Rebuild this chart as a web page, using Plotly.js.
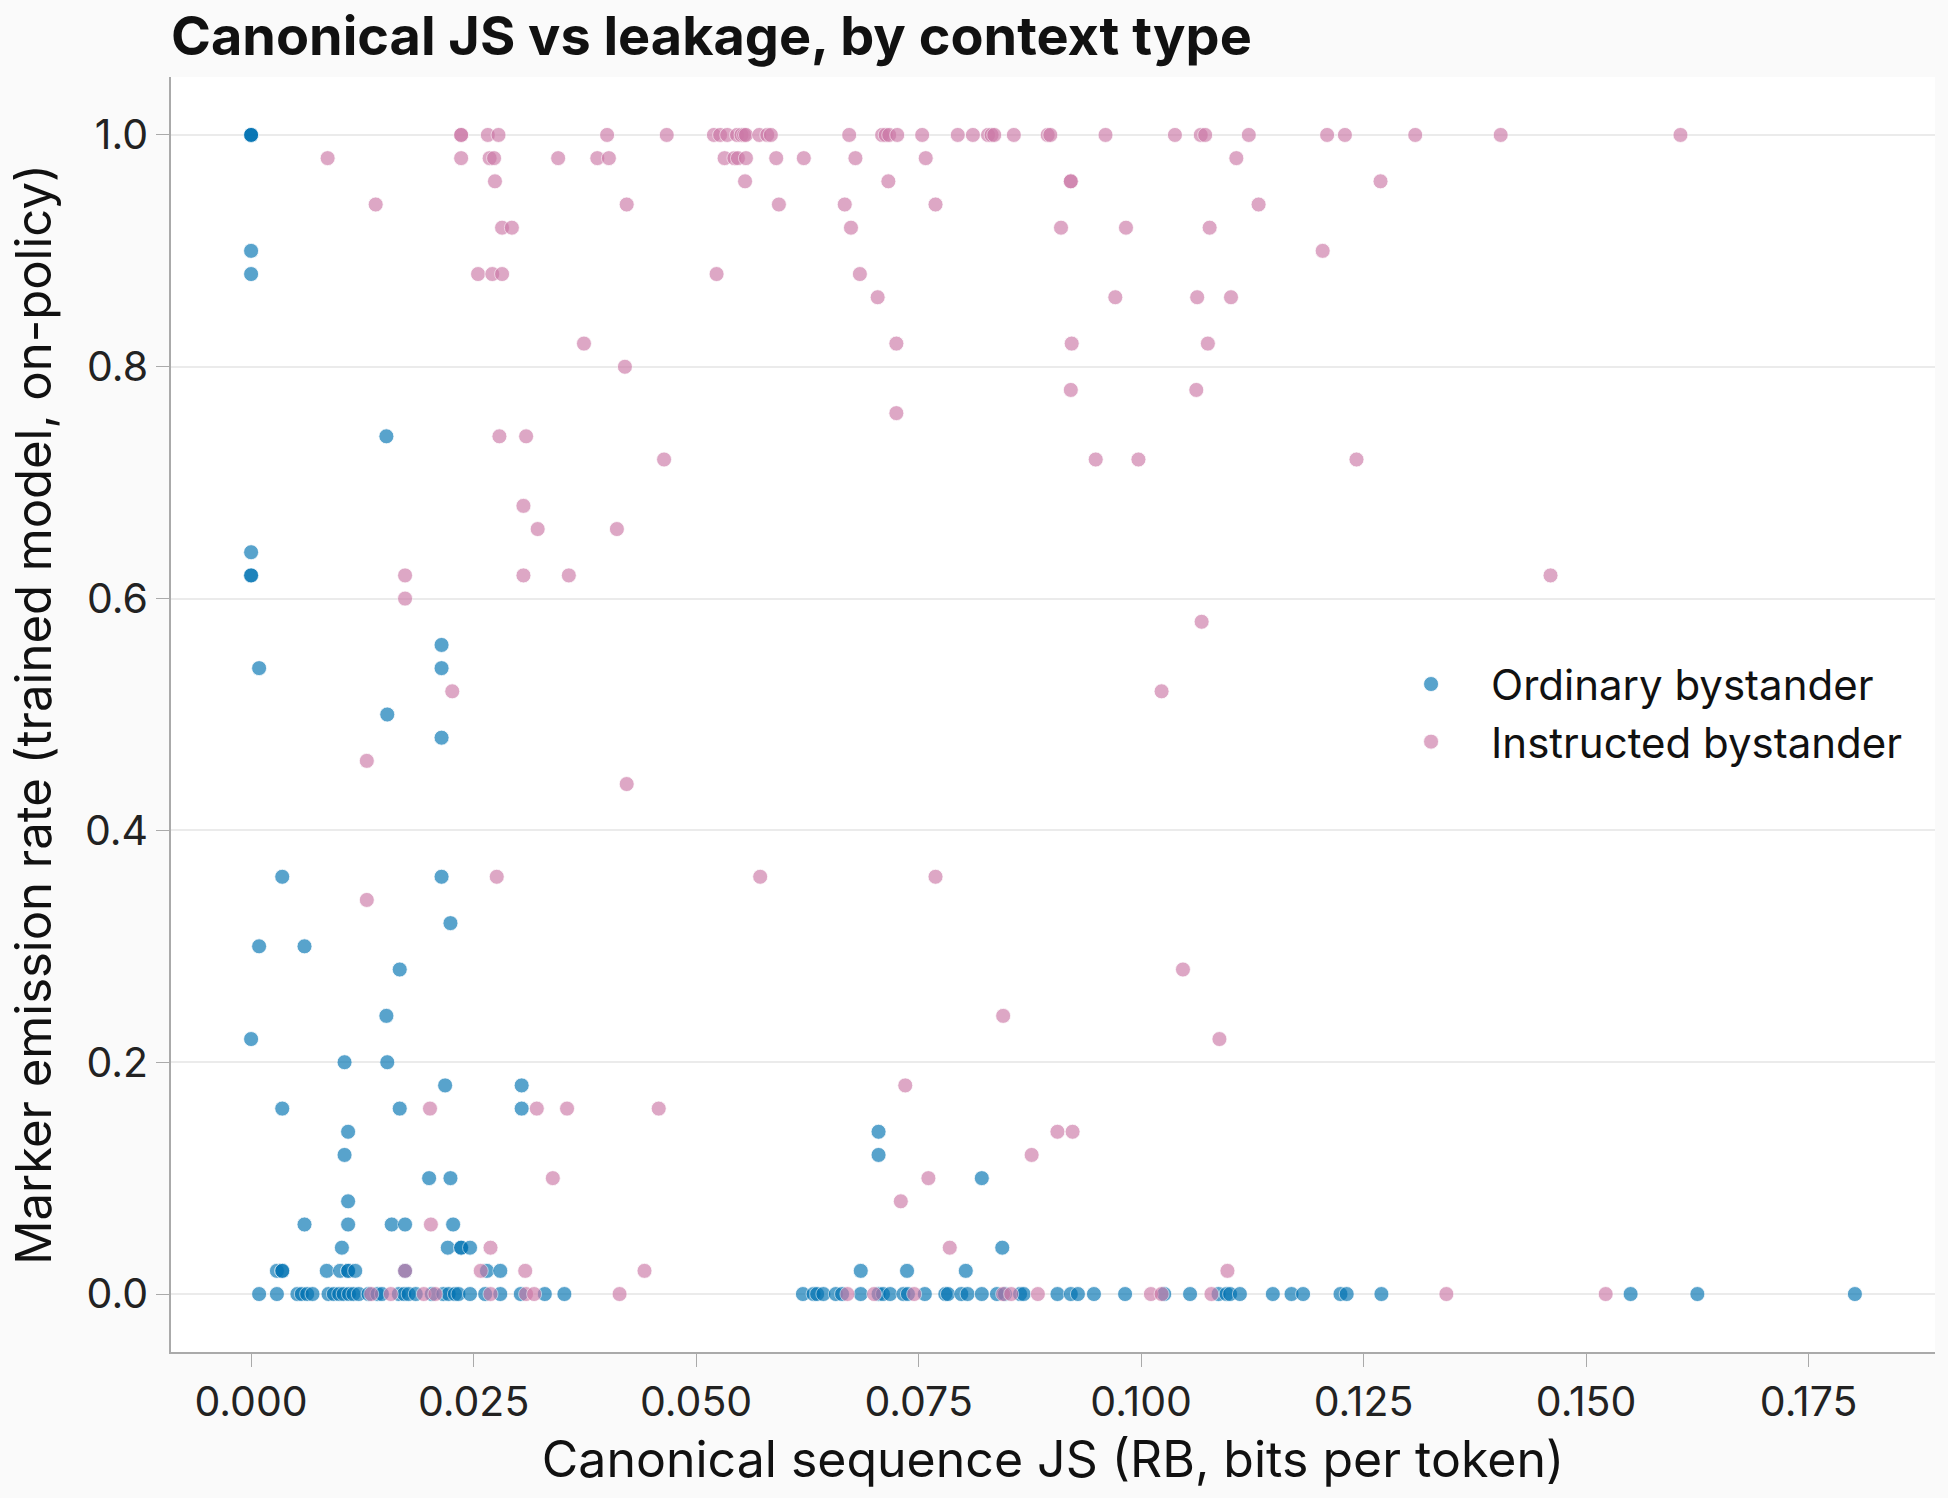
<!DOCTYPE html>
<html>
<head>
<meta charset="utf-8">
<script src="https://cdn.plot.ly/plotly-3.0.1.min.js"></script>
<style>
html,body{margin:0;padding:0;background:#FAFAFA;}
#chart{width:1948px;height:1498px;}
</style>
</head>
<body>
<div id="chart"></div>
<script>
// Ordinary bystander: canonical JS (x) and marker emission rate (y)
const ordinaryX = [
  0, 0, 0, 0, 0, 0, 0, 0, 0,
  0.0152, 0.0214, 0.0009, 0.0214, 0.0153, 0.0214,
  0.0035, 0.0214, 0.0224, 0.0009, 0.0060, 0.0167,
  0.0152, 0.0105, 0.0153, 0.0218, 0.0304,
  0.0035, 0.0167, 0.0304,
  0.0109, 0.0705, 0.0105, 0.0705,
  0.0200, 0.0224, 0.0821, 0.0109,
  0.0060, 0.0109, 0.0158, 0.0173, 0.0227,
  0.0102, 0.0221, 0.0236, 0.0236, 0.0246, 0.0844,
  0.0029, 0.0035, 0.0035, 0.0085, 0.0100, 0.0109, 0.0109, 0.0117, 0.0173, 0.0265, 0.0280, 0.0685, 0.0737, 0.0803,
  0.0009, 0.0029, 0.0052, 0.0057, 0.0063, 0.0069, 0.0087, 0.0093, 0.0099, 0.0104, 0.0110, 0.0115, 0.0121, 0.0132,
  0.0142, 0.0147, 0.0166, 0.0172, 0.0177, 0.0185, 0.0203, 0.0216, 0.0222, 0.0229, 0.0233, 0.0246, 0.0263, 0.0280,
  0.0303, 0.0330, 0.0352, 0.0620, 0.0632, 0.0636, 0.0643, 0.0657, 0.0664, 0.0685, 0.0705, 0.0710, 0.0718,
  0.0733, 0.0738, 0.0757, 0.0780, 0.0783, 0.0798, 0.0805, 0.0821, 0.0838, 0.0847, 0.0864, 0.0868, 0.0906,
  0.0921, 0.0929, 0.0947, 0.0982, 0.1026, 0.1055, 0.1087, 0.1096, 0.1100, 0.1111, 0.1148, 0.1169, 0.1182,
  0.1224, 0.1231, 0.1270, 0.1550, 0.1625, 0.1802
];
const ordinaryY = [
  1.00, 1.00, 1.00, 0.90, 0.88, 0.64, 0.62, 0.62, 0.22,
  0.74, 0.56, 0.54, 0.54, 0.50, 0.48,
  0.36, 0.36, 0.32, 0.30, 0.30, 0.28,
  0.24, 0.20, 0.20, 0.18, 0.18,
  0.16, 0.16, 0.16,
  0.14, 0.14, 0.12, 0.12,
  0.10, 0.10, 0.10, 0.08,
  0.06, 0.06, 0.06, 0.06, 0.06,
  0.04, 0.04, 0.04, 0.04, 0.04, 0.04,
  0.02, 0.02, 0.02, 0.02, 0.02, 0.02, 0.02, 0.02, 0.02, 0.02, 0.02, 0.02, 0.02, 0.02,
  0, 0, 0, 0, 0, 0, 0, 0, 0, 0, 0, 0, 0, 0,
  0, 0, 0, 0, 0, 0, 0, 0, 0, 0, 0, 0, 0, 0,
  0, 0, 0, 0, 0, 0, 0, 0, 0, 0, 0, 0, 0,
  0, 0, 0, 0, 0, 0, 0, 0, 0, 0, 0, 0, 0,
  0, 0, 0, 0, 0, 0, 0, 0, 0, 0, 0, 0, 0,
  0, 0, 0, 0, 0, 0
];

// Instructed bystander
const instructedX = [
  0.0236, 0.0236, 0.0266, 0.0278, 0.0400, 0.0467, 0.0520, 0.0527, 0.0535, 0.0546,
  0.0551, 0.0554, 0.0556, 0.0571, 0.0580, 0.0584, 0.0672, 0.0709, 0.0713, 0.0717,
  0.0726, 0.0754, 0.0794, 0.0811, 0.0828, 0.0832, 0.0835, 0.0857, 0.0895, 0.0898,
  0.0960, 0.1038, 0.1067, 0.1072, 0.1121, 0.1209, 0.1229, 0.1308, 0.1404, 0.1606,
  0.0086, 0.0236, 0.0268, 0.0273, 0.0345, 0.0389, 0.0402, 0.0532, 0.0543, 0.0547,
  0.0556, 0.0590, 0.0621, 0.0679, 0.0758, 0.1107,
  0.0274, 0.0555, 0.0716, 0.0921, 0.0921, 0.1269,
  0.0140, 0.0422, 0.0593, 0.0667, 0.0769, 0.1132,
  0.0282, 0.0293, 0.0674, 0.0910, 0.0983, 0.1077,
  0.1204,
  0.0255, 0.0271, 0.0282, 0.0523, 0.0684,
  0.0704, 0.0971, 0.1063, 0.1101,
  0.0374, 0.0725, 0.0922, 0.1075,
  0.0420,
  0.0921, 0.1062,
  0.0725,
  0.0279, 0.0309,
  0.0464, 0.0949, 0.0997, 0.1242,
  0.0306,
  0.0322, 0.0411,
  0.0173, 0.0306, 0.0357, 0.1460,
  0.0173,
  0.1068,
  0.0226, 0.1023,
  0.0130,
  0.0422,
  0.0276, 0.0572, 0.0769,
  0.0130,
  0.1047,
  0.0845,
  0.1088,
  0.0735,
  0.0201, 0.0321, 0.0355, 0.0458,
  0.0906, 0.0923,
  0.0877,
  0.0339, 0.0761,
  0.0730,
  0.0202,
  0.0269, 0.0785,
  0.0173, 0.0258, 0.0308, 0.0442, 0.1097,
  0.0135, 0.0157, 0.0194, 0.0207, 0.0269, 0.0309, 0.0318, 0.0414, 0.0670, 0.0700,
  0.0745, 0.0845, 0.0854, 0.0884, 0.1011, 0.1023, 0.1079, 0.1343, 0.1522
];
const instructedY = [
  1, 1, 1, 1, 1, 1, 1, 1, 1, 1,
  1, 1, 1, 1, 1, 1, 1, 1, 1, 1,
  1, 1, 1, 1, 1, 1, 1, 1, 1, 1,
  1, 1, 1, 1, 1, 1, 1, 1, 1, 1,
  0.98, 0.98, 0.98, 0.98, 0.98, 0.98, 0.98, 0.98, 0.98, 0.98,
  0.98, 0.98, 0.98, 0.98, 0.98, 0.98,
  0.96, 0.96, 0.96, 0.96, 0.96, 0.96,
  0.94, 0.94, 0.94, 0.94, 0.94, 0.94,
  0.92, 0.92, 0.92, 0.92, 0.92, 0.92,
  0.90,
  0.88, 0.88, 0.88, 0.88, 0.88,
  0.86, 0.86, 0.86, 0.86,
  0.82, 0.82, 0.82, 0.82,
  0.80,
  0.78, 0.78,
  0.76,
  0.74, 0.74,
  0.72, 0.72, 0.72, 0.72,
  0.68,
  0.66, 0.66,
  0.62, 0.62, 0.62, 0.62,
  0.60,
  0.58,
  0.52, 0.52,
  0.46,
  0.44,
  0.36, 0.36, 0.36,
  0.34,
  0.28,
  0.24,
  0.22,
  0.18,
  0.16, 0.16, 0.16, 0.16,
  0.14, 0.14,
  0.12,
  0.10, 0.10,
  0.08,
  0.06,
  0.04, 0.04,
  0.02, 0.02, 0.02, 0.02, 0.02,
  0, 0, 0, 0, 0, 0, 0, 0, 0, 0,
  0, 0, 0, 0, 0, 0, 0, 0, 0
];

const seriesNames = ['Ordinary bystander', 'Instructed bystander'];
const seriesColors = ['#0072B2', '#CC79A7'];
const xTickVals = [0, 0.025, 0.05, 0.075, 0.1, 0.125, 0.15, 0.175];
const yTickVals = [0, 0.2, 0.4, 0.6, 0.8, 1.0];

const FONT = 'Inter, "Noto Sans", "DejaVu Sans", sans-serif';

function mk(x, y, i) {
  return {
    type: 'scatter', mode: 'markers', x: x, y: y, name: seriesNames[i],
    marker: {size: 15, color: seriesColors[i], opacity: 0.65,
             line: {color: '#FFFFFF', width: 0.8}},
    hoverinfo: 'x+y+name'
  };
}

const data = [mk(ordinaryX, ordinaryY, 0), mk(instructedX, instructedY, 1)];

const layout = {
  width: 1948, height: 1498,
  paper_bgcolor: '#FAFAFA', plot_bgcolor: '#FFFFFF',
  margin: {l: 171, r: 13, t: 77, b: 146, pad: 0},
  font: {family: FONT, size: 41, color: '#222222'},
  title: {text: 'Canonical JS vs leakage, by context type',
          font: {family: FONT, size: 54, color: '#111111', weight: 700},
          x: 0, xref: 'paper', xanchor: 'left',
          y: 1 - 36/1498, yref: 'container', yanchor: 'middle'},
  xaxis: {
    range: [-0.009, 0.1892], tickvals: xTickVals, tickformat: '.3f',
    showgrid: false, zeroline: false,
    showline: true, linecolor: '#AAAAAA', linewidth: 1.5,
    ticks: 'outside', ticklen: 13, tickwidth: 1.2, tickcolor: '#AAAAAA',
    tickfont: {size: 41, color: '#222222'},
    title: {text: 'Canonical sequence JS (RB, bits per token)',
            font: {size: 50, color: '#111111'}, standoff: 17}
  },
  yaxis: {
    range: [-0.05, 1.05], tickvals: yTickVals, tickformat: '.1f',
    showgrid: true, gridcolor: '#EBEBEB', gridwidth: 1.5, zeroline: false,
    showline: true, linecolor: '#AAAAAA', linewidth: 1.5,
    ticks: 'outside', ticklen: 13, tickwidth: 1.2, tickcolor: '#AAAAAA',
    tickfont: {size: 41, color: '#222222'},
    title: {text: 'Marker emission rate (trained model, on-policy)',
            font: {size: 49, color: '#111111'}, standoff: 18}
  },
  legend: {
    x: 0.6803, xanchor: 'left', y: 0.501, yanchor: 'middle',
    bgcolor: 'rgba(0,0,0,0)', borderwidth: 0,
    font: {size: 42, color: '#111111'}, itemwidth: 110
  },
  showlegend: true
};

Plotly.newPlot('chart', data, layout, {displayModeBar: false, responsive: false});
</script>
</body>
</html>
